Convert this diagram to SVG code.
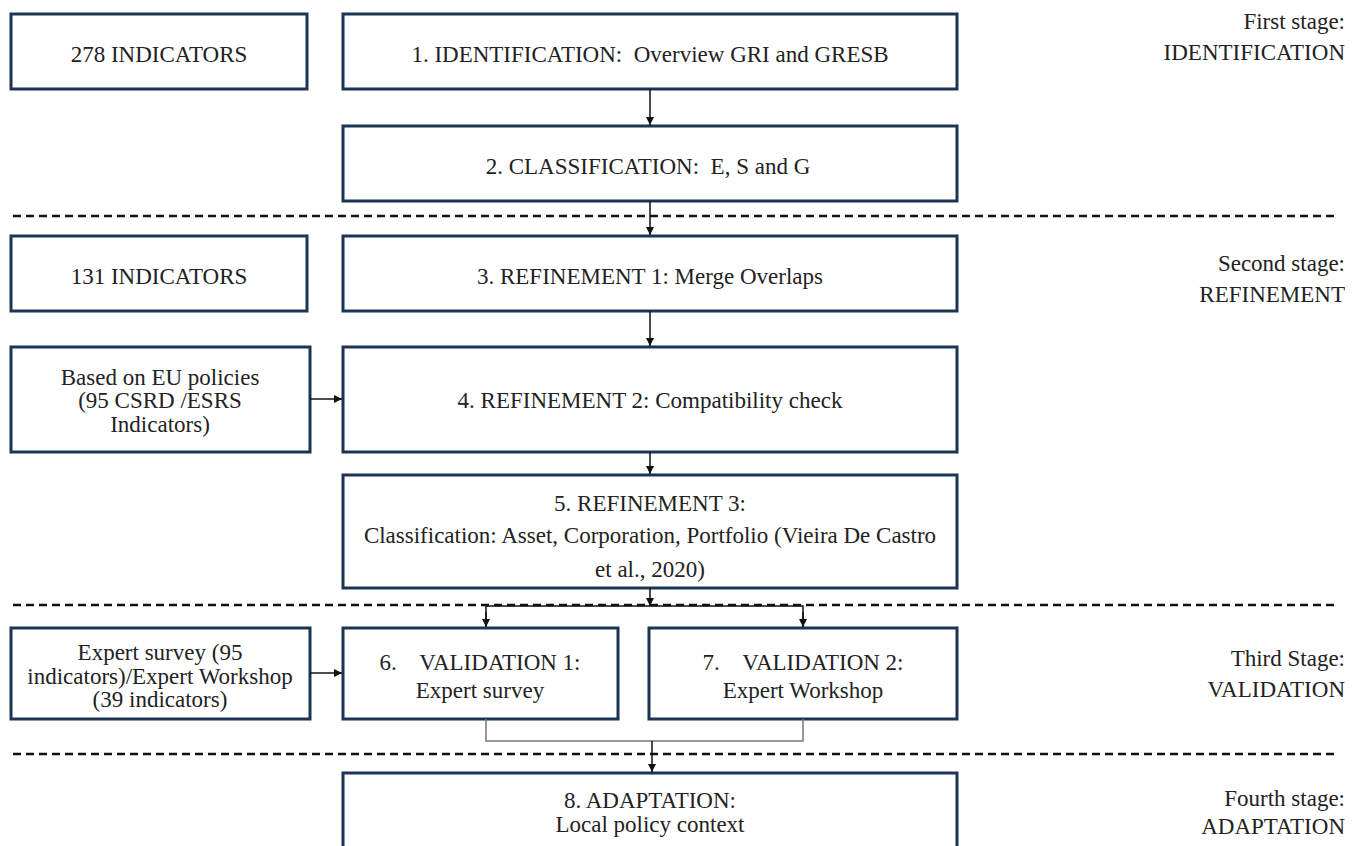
<svg xmlns="http://www.w3.org/2000/svg" width="1372" height="846" viewBox="0 0 1372 846">
<style>
.box{fill:#fff;stroke:#1b3553;stroke-width:3}
.t{font-family:"Liberation Serif","DejaVu Serif",serif;font-size:23px;fill:#222;text-anchor:middle}
.s{font-family:"Liberation Serif","DejaVu Serif",serif;font-size:23px;fill:#222;text-anchor:end}
.dash{stroke:#111;stroke-width:2.5;stroke-dasharray:8 5;fill:none}
.c{stroke:#111;stroke-width:1.5;fill:none}
.g{stroke:#777;stroke-width:1.5;fill:none}
</style>
<defs>
<marker id="ah" viewBox="0 0 10 10" refX="10" refY="5" markerWidth="8" markerHeight="8" markerUnits="userSpaceOnUse" orient="auto">
<path d="M0,0 L10,5 L0,10 z" fill="#111"/>
</marker>
</defs>
<rect width="1372" height="846" fill="#fff"/>

<g id="separators">
<line class="dash" x1="13" y1="216" x2="1338" y2="216"/>
<line class="dash" x1="13" y1="605" x2="1338" y2="605"/>
<line class="dash" x1="13" y1="754" x2="1338" y2="754"/>
</g>

<g id="stage-labels">
<text class="s" x="1345" y="29">First stage:</text>
<text class="s" x="1345" y="60">IDENTIFICATION</text>
<text class="s" x="1345" y="271">Second stage:</text>
<text class="s" x="1345" y="302">REFINEMENT</text>
<text class="s" x="1345" y="666">Third Stage:</text>
<text class="s" x="1345" y="697">VALIDATION</text>
<text class="s" x="1345" y="806">Fourth stage:</text>
<text class="s" x="1345" y="834">ADAPTATION</text>
</g>

<g id="n278">
<rect class="box" x="11" y="14" width="296" height="75"/>
<text class="t" x="159" y="62">278 INDICATORS</text>
</g>
<g id="n1">
<rect class="box" x="343" y="14" width="614" height="75"/>
<text class="t" x="650" y="62" xml:space="preserve">1. IDENTIFICATION:  Overview GRI and GRESB</text>
</g>
<g id="n2">
<rect class="box" x="343" y="126" width="614" height="75"/>
<text class="t" x="648" y="174" xml:space="preserve">2. CLASSIFICATION:  E, S and G</text>
</g>
<g id="n131">
<rect class="box" x="11" y="236" width="296" height="75"/>
<text class="t" x="159" y="284">131 INDICATORS</text>
</g>
<g id="n3">
<rect class="box" x="343" y="236" width="614" height="75"/>
<text class="t" x="650" y="284">3. REFINEMENT 1: Merge Overlaps</text>
</g>
<g id="neu">
<rect class="box" x="11" y="347" width="299" height="105"/>
<text class="t" x="160" y="385">Based on EU policies</text>
<text class="t" x="160" y="408">(95 CSRD /ESRS</text>
<text class="t" x="160" y="432">Indicators)</text>
</g>
<g id="n4">
<rect class="box" x="343" y="347" width="614" height="105"/>
<text class="t" x="650" y="408">4. REFINEMENT 2: Compatibility check</text>
</g>
<g id="n5">
<rect class="box" x="343" y="475" width="614" height="113"/>
<text class="t" x="650" y="511">5. REFINEMENT 3:</text>
<text class="t" x="650" y="543">Classification: Asset, Corporation, Portfolio (Vieira De Castro</text>
<text class="t" x="650" y="577">et al., 2020)</text>
</g>
<g id="nexp">
<rect class="box" x="11" y="628" width="299" height="91"/>
<text class="t" x="160" y="660">Expert survey (95</text>
<text class="t" x="160" y="684">indicators)/Expert Workshop</text>
<text class="t" x="160" y="707">(39 indicators)</text>
</g>
<g id="n6">
<rect class="box" x="343" y="628" width="275" height="91"/>
<text class="t" x="480" y="670" xml:space="preserve">6.    VALIDATION 1:</text>
<text class="t" x="480" y="698">Expert survey</text>
</g>
<g id="n7">
<rect class="box" x="649" y="628" width="308" height="91"/>
<text class="t" x="803" y="670" xml:space="preserve">7.    VALIDATION 2:</text>
<text class="t" x="803" y="698">Expert Workshop</text>
</g>
<g id="n8">
<rect class="box" x="343" y="773" width="614" height="90"/>
<text class="t" x="650" y="808">8. ADAPTATION:</text>
<text class="t" x="650" y="832">Local policy context</text>
</g>

<g id="connectors">
<line class="c" x1="650" y1="89" x2="650" y2="125" marker-end="url(#ah)"/>
<line class="c" x1="650" y1="201" x2="650" y2="235" marker-end="url(#ah)"/>
<line class="c" x1="650" y1="311" x2="650" y2="346" marker-end="url(#ah)"/>
<line class="c" x1="650" y1="452" x2="650" y2="474" marker-end="url(#ah)"/>
<line class="c" x1="310" y1="399" x2="342" y2="399" marker-end="url(#ah)"/>
<line class="c" x1="650" y1="588" x2="650" y2="606" marker-end="url(#ah)"/>
<polyline class="c" points="486,627 486,606 803,606 803,627"/>
<line class="c" x1="486" y1="612" x2="486" y2="627" marker-end="url(#ah)"/>
<line class="c" x1="803" y1="612" x2="803" y2="627" marker-end="url(#ah)"/>
<line class="c" x1="310" y1="673" x2="342" y2="673" marker-end="url(#ah)"/>
<polyline class="g" points="486,719 486,741 803,741 803,719"/>
<line class="c" x1="652" y1="741" x2="652" y2="772" marker-end="url(#ah)"/>
</g>
</svg>
